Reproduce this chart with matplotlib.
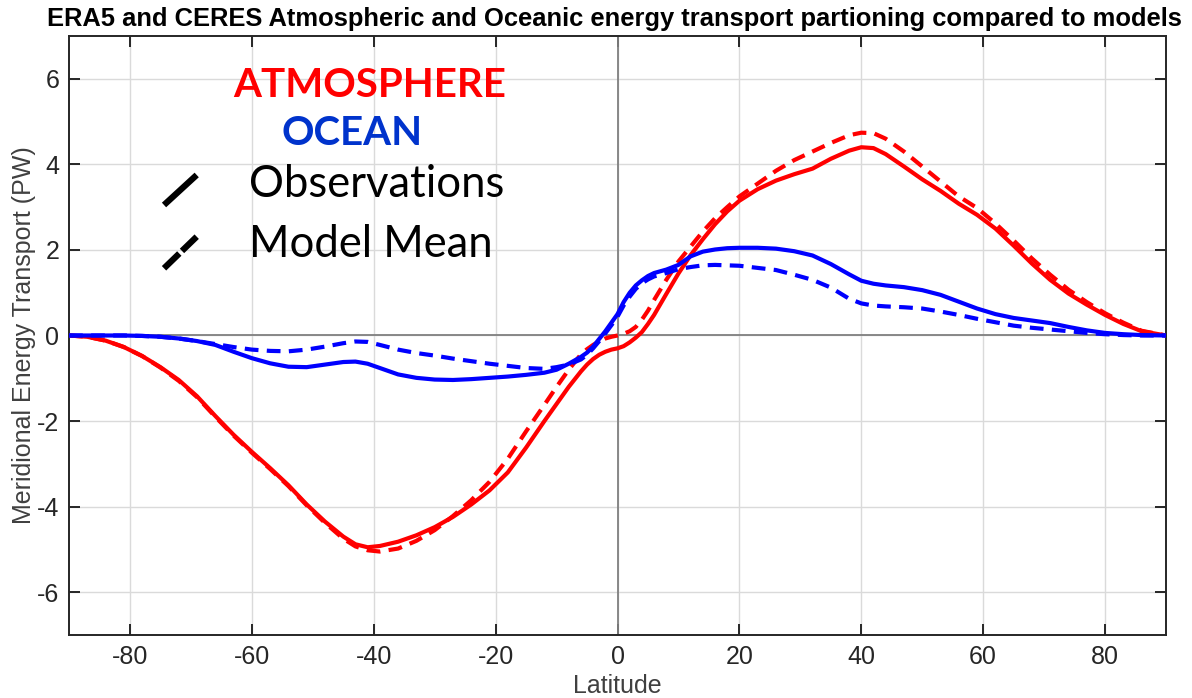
import numpy as np
import matplotlib
matplotlib.use('Agg')
import matplotlib.pyplot as plt
from matplotlib.lines import Line2D

# Latitudes of the transport estimates (degrees)
lat = [-90, -87, -84, -81, -78, -75, -72, -69, -66, -63, -60, -57, -54, -51, -48,
       -45, -43, -41, -39, -36, -33, -30, -27, -24, -21, -18, -15, -12, -10, -8,
       -6, -5, -4, -3, -2, -1, 0, 1, 2, 3, 4, 5, 6, 8, 10, 12, 14, 16, 18, 20, 23,
       26, 29, 32, 35, 38, 40, 42, 44, 47, 50, 53, 56, 59, 62, 65, 68, 71, 74, 77,
       80, 83, 86, 90]

# Atmospheric transport (PW): ERA5/CERES observations and model mean
atm_obs = [0, -0.03, -0.12, -0.27, -0.48, -0.74, -1.04, -1.42, -1.88, -2.32, -2.72,
           -3.10, -3.50, -3.95, -4.35, -4.70, -4.88, -4.95, -4.92, -4.82, -4.67,
           -4.48, -4.24, -3.95, -3.62, -3.20, -2.62, -2.00, -1.60, -1.20,
           -0.84, -0.68, -0.55, -0.45, -0.38, -0.33, -0.30, -0.25, -0.16, -0.05,
           0.08, 0.27, 0.48, 0.97, 1.45, 1.88, 2.25, 2.60, 2.90, 3.15, 3.42, 3.62,
           3.77, 3.90, 4.13, 4.32, 4.40, 4.38, 4.24, 3.95, 3.65, 3.38, 3.08, 2.82,
           2.50, 2.10, 1.68, 1.30, 0.98, 0.72, 0.48, 0.27, 0.10, 0]
atm_model = [0, -0.03, -0.12, -0.27, -0.48, -0.75, -1.06, -1.44, -1.90, -2.34, -2.74,
             -3.12, -3.52, -3.97, -4.38, -4.75, -4.93, -5.02, -5.05, -4.98, -4.80,
             -4.55, -4.22, -3.85, -3.42, -2.88, -2.24, -1.62, -1.20, -0.80,
             -0.44, -0.32, -0.22, -0.14, -0.07, -0.03, 0.00, 0.04, 0.10, 0.20,
             0.37, 0.58, 0.83, 1.30, 1.73, 2.08, 2.43, 2.74, 3.00, 3.25, 3.55, 3.85,
             4.10, 4.30, 4.50, 4.68, 4.74, 4.73, 4.60, 4.30, 3.95, 3.60, 3.25, 2.98,
             2.62, 2.22, 1.80, 1.42, 1.07, 0.78, 0.52, 0.30, 0.11, 0]

# Oceanic transport (PW)
ocn_obs = [0, 0, 0, 0, -0.01, -0.03, -0.07, -0.13, -0.22, -0.38, -0.53, -0.65,
           -0.73, -0.74, -0.68, -0.62, -0.61, -0.66, -0.76, -0.91, -0.99, -1.03,
           -1.04, -1.02, -0.99, -0.96, -0.92, -0.87, -0.80, -0.66,
           -0.50, -0.40, -0.26, -0.08, 0.10, 0.30, 0.50, 0.78, 1.00, 1.17, 1.29,
           1.39, 1.46, 1.54, 1.65, 1.85, 1.96, 2.01, 2.04, 2.05, 2.05, 2.03, 1.97,
           1.87, 1.67, 1.43, 1.28, 1.21, 1.17, 1.13, 1.06, 0.95, 0.79, 0.63, 0.50,
           0.41, 0.35, 0.29, 0.20, 0.12, 0.06, 0.03, 0.01, 0]
ocn_model = [0, 0, 0, 0, -0.01, -0.03, -0.07, -0.13, -0.20, -0.27, -0.33, -0.36,
             -0.37, -0.33, -0.26, -0.18, -0.14, -0.15, -0.22, -0.33, -0.41, -0.47,
             -0.54, -0.60, -0.66, -0.71, -0.76, -0.78, -0.74, -0.68,
             -0.56, -0.45, -0.30, -0.13, 0.05, 0.24, 0.44, 0.70, 0.91, 1.09, 1.22,
             1.31, 1.38, 1.46, 1.55, 1.60, 1.64, 1.65, 1.64, 1.63, 1.58, 1.53, 1.42,
             1.30, 1.12, 0.86, 0.75, 0.70, 0.68, 0.66, 0.63, 0.56, 0.48, 0.39, 0.31,
             0.23, 0.18, 0.14, 0.10, 0.06, 0.03, 0.01, 0, 0]

xticks = [-80, -60, -40, -20, 0, 20, 40, 60, 80]
yticks = [-6, -4, -2, 0, 2, 4, 6]

RED = '#ff0000'
BLUE = '#0000ff'
AXCOL = '#262626'

plt.rcParams['font.family'] = ['Liberation Sans', 'DejaVu Sans']
plt.rcParams['axes.unicode_minus'] = False

fig = plt.figure(figsize=(11.92, 6.98), dpi=100)
ax = fig.add_axes([0.0579, 0.0903, 0.9203, 0.8581])

ax.set_xlim(-90, 90)
ax.set_ylim(-7, 7)
ax.set_xticks(xticks)
ax.set_yticks(yticks)
ax.grid(color='#dadada', linewidth=1.0)
ax.set_axisbelow(True)
ax.axhline(0, color='#808080', linewidth=1.3, zorder=1)
ax.axvline(0, color='#808080', linewidth=1.3, zorder=1)

lw = 3.0
dash = (3.3, 2.0)
ax.plot(lat, atm_obs, color=RED, linewidth=lw, zorder=3)
ax.plot(lat, atm_model, color=RED, linewidth=lw, dashes=dash, zorder=3)
ax.plot(lat, ocn_obs, color=BLUE, linewidth=lw, zorder=3)
ax.plot(lat, ocn_model, color=BLUE, linewidth=lw, dashes=dash, zorder=3)

for s in ax.spines.values():
    s.set_color(AXCOL)
    s.set_linewidth(1.4)
ax.tick_params(direction='in', length=8, width=1.4, color=AXCOL,
               labelsize=18, labelcolor=AXCOL, top=True, right=True, pad=7)

ax.set_xlabel('Latitude', fontsize=18, color='#404040', labelpad=4)
ax.set_ylabel('Meridional Energy Transport (PW)', fontsize=18, color='#404040', labelpad=1)
ax.set_title('ERA5 and CERES Atmospheric and Oceanic energy transport partioning compared to models',
             fontsize=18.4, fontweight='bold', pad=7, x=0.497)

# text legend in the upper left corner
kw = dict(transform=ax.transAxes, family=['Lato', 'DejaVu Sans'],
          ha='left', va='baseline')
ax.text(0.1495, 0.8987, 'ATMOSPHERE', color=RED, fontweight='bold', fontsize=29, **kw)
ax.text(0.194, 0.818, 'OCEAN', color='#0033cc', fontweight='bold', fontsize=29, **kw)
ax.text(0.164, 0.7317, 'Observations', color='black', fontsize=31.4, **kw)
ax.text(0.164, 0.6316, 'Model Mean', color='black', fontsize=31.4, **kw)
ax.add_line(Line2D([0.0866, 0.1164], [0.7179, 0.768], transform=ax.transAxes,
                   color='black', linewidth=4.5, solid_capstyle='butt'))
ax.add_line(Line2D([0.0866, 0.1164], [0.6122, 0.665], transform=ax.transAxes,
                   color='black', linewidth=4.5, dashes=(3.4, 0.6), dash_capstyle='butt'))

fig.savefig('out.png', dpi=100)
